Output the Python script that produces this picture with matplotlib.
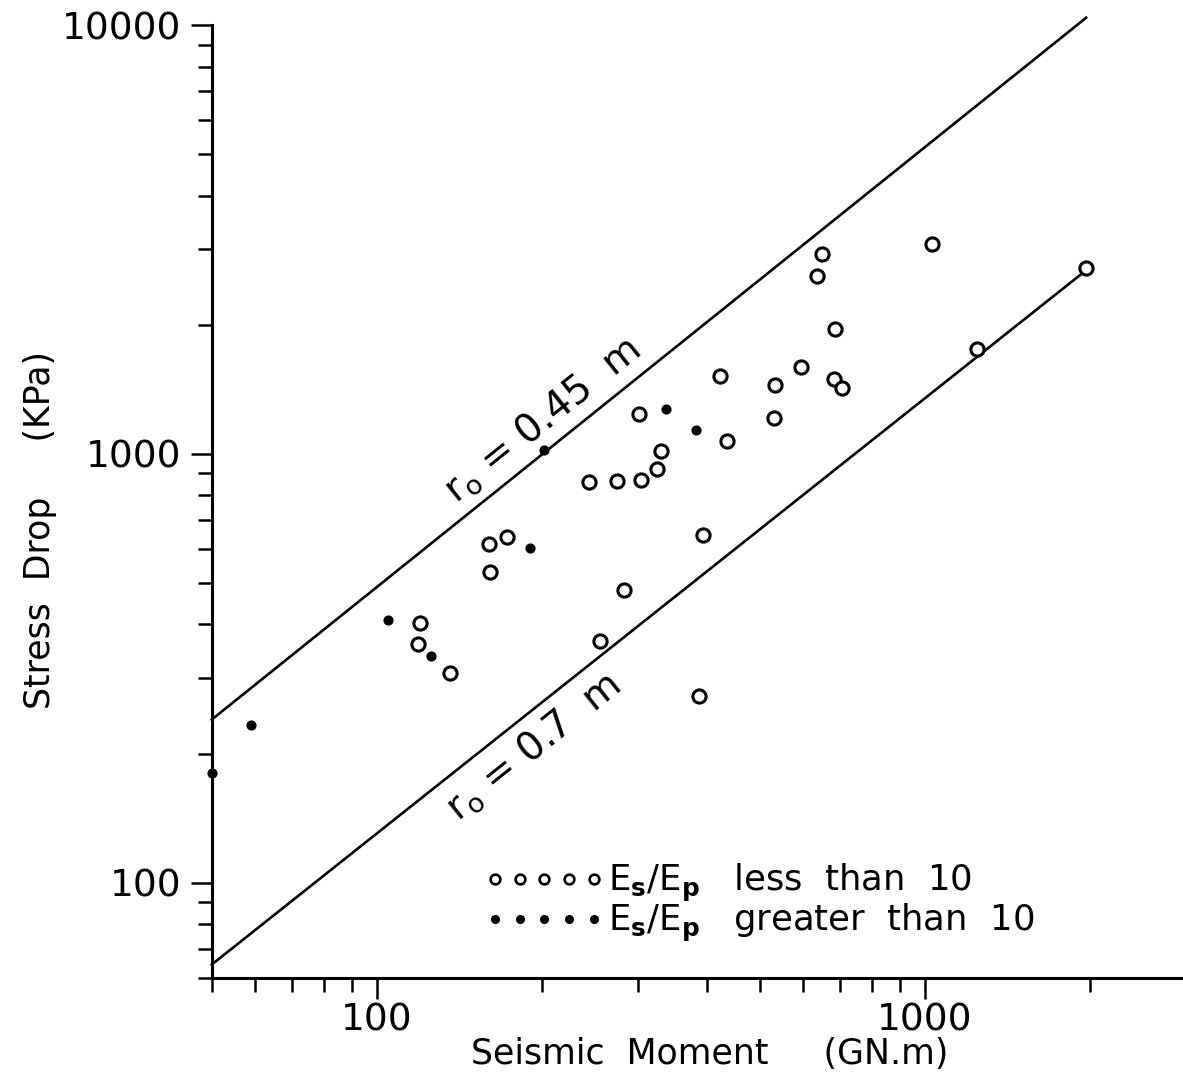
import matplotlib
matplotlib.use("Agg")
import matplotlib.pyplot as plt
from matplotlib.lines import Line2D
import numpy as np

# events with Es/Ep below 10 (open circles)
moment_low = [120, 119, 136, 160, 161, 173, 244, 274, 304, 325, 330, 301,
              255, 283, 394, 387, 423, 436, 532, 531, 595, 637, 648, 686,
              683, 705, 1032, 1243, 1972]
stress_low = [403, 361, 308, 616, 531, 638, 859, 865, 870, 924, 1016, 1240,
              365, 480, 645, 272, 1520, 1074, 1448, 1211, 1597, 2604, 2925, 1956,
              1494, 1427, 3087, 1754, 2709]

# events with Es/Ep above 10 (filled dots)
moment_high = [50, 59, 105, 125.5, 190, 202, 336.5, 382]
stress_high = [180, 233, 409, 338, 603, 1022, 1271, 1136]

# constant source radius lines
line_moment = [50, 1970]
stress_r045 = [240, 10400]
stress_r070 = [64.4, 2680]

plt.rcParams['font.family'] = ['DejaVu Sans']

fig = plt.figure(figsize=(11.83, 10.73), dpi=100)
ax = fig.add_axes([0.179, 0.0888, 0.8204, 0.8879])
ax.set_xscale('log')
ax.set_yscale('log')
ax.set_xlim(50, 2950)
ax.set_ylim(60, 10000)

ax.plot(line_moment, stress_r045, color='black', lw=1.9, clip_on=False)
ax.plot(line_moment, stress_r070, color='black', lw=1.9, clip_on=False)

ax.plot(moment_low, stress_low, 'o', ms=9.5, mfc='white', mec='black',
        mew=2.2, ls='none', clip_on=False, zorder=3)
ax.plot(moment_high, stress_high, 'o', ms=6.3, mfc='black', mec='black',
        ls='none', clip_on=False, zorder=3)

# rotate the line labels to follow the lines on screen
p0, p1 = ax.transData.transform([(line_moment[0], stress_r045[0]),
                                 (line_moment[1], stress_r045[1])])
angle = np.degrees(np.arctan2(p1[1] - p0[1], p1[0] - p0[0]))
ax.text(200, 1200, r'r$_\mathregular{o}$ = 0.45  m', fontsize=28,
        rotation=angle, rotation_mode='anchor', ha='center', va='center')
ax.text(193, 208, r'r$_\mathregular{o}$ = 0.7  m', fontsize=28,
        rotation=angle, rotation_mode='anchor', ha='center', va='center')

for side in ['top', 'right']:
    ax.spines[side].set_visible(False)
for side in ['left', 'bottom']:
    ax.spines[side].set_linewidth(2.2)

ax.tick_params(which='major', length=15, width=1.8, labelsize=27)
ax.tick_params(which='minor', length=10, width=1.8)
ax.tick_params(axis='x', which='major', pad=3)
ax.tick_params(axis='y', which='major', pad=7)
ax.xaxis.set_minor_formatter(matplotlib.ticker.NullFormatter())
ax.yaxis.set_minor_formatter(matplotlib.ticker.NullFormatter())
ax.xaxis.set_major_formatter(matplotlib.ticker.FormatStrFormatter('%d'))
ax.yaxis.set_major_formatter(matplotlib.ticker.FormatStrFormatter('%d'))

ax.set_xlabel('Seismic  Moment     (GN.m)', fontsize=25)
ax.xaxis.set_label_coords(0.513, -0.062)
ax.set_ylabel('Stress  Drop     (KPa)', fontsize=25)
ax.yaxis.set_label_coords(-0.159, 0.47)

handles = [
    Line2D([], [], marker='o', ms=7, mfc='white', mec='black', mew=1.9, ls='none'),
    Line2D([], [], marker='o', ms=5.5, mfc='black', mec='black', ls='none'),
]
ax.legend(handles, [r'E$_\mathbf{s}$/E$_\mathbf{p}$   less  than  10',
                    r'E$_\mathbf{s}$/E$_\mathbf{p}$   greater  than  10'],
          loc='upper left', bbox_to_anchor=(0.2806, 0.1215), frameon=False,
          numpoints=5, handlelength=3.4, handletextpad=0.1, labelspacing=-0.05,
          borderpad=0, borderaxespad=0, fontsize=25.5)

fig.savefig('out.png', dpi=100)
